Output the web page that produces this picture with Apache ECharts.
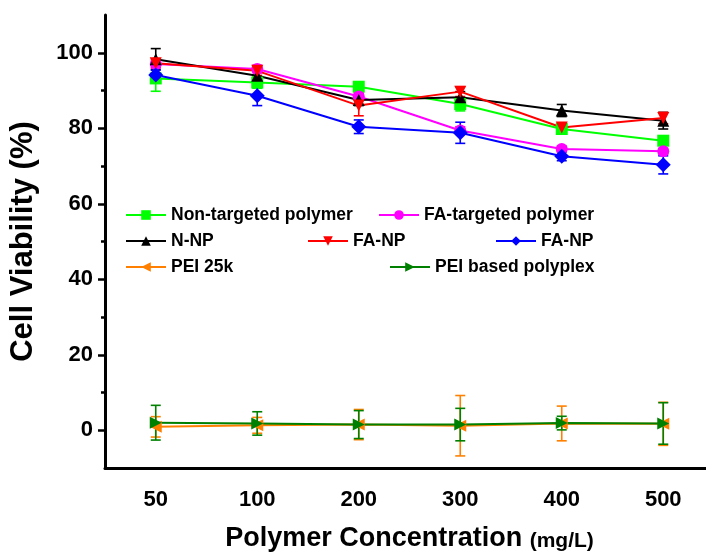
<!DOCTYPE html>
<html>
<head>
<meta charset="utf-8">
<script src="https://cdn.jsdelivr.net/npm/echarts@6/dist/echarts.min.js"></script>
<style>html,body{margin:0;padding:0;background:#fff;}#c{width:706px;height:552px;}</style>
</head>
<body>
<div id="c"></div>
<script>
const categories = ['50', '100', '200', '300', '400', '500'];
const yLabelValues = [0, 20, 40, 60, 80, 100];
const yMinorValues = [10, 30, 50, 70, 90];

const nonTargeted = [93.2, 92.1, 91.0, 86.4, 79.8, 76.7];
const nonTargetedErr = [3.4, 1.5, 1.0, 1.8, 1.2, 1.0];
const faTargeted = [97.0, 95.7, 88.4, 79.4, 74.5, 73.9];
const faTargetedErr = [1.0, 1.0, 1.0, 1.0, 0.8, 0.8];
const nNP = [98.3, 93.9, 87.5, 88.2, 84.7, 82.0];
const nNPErr = [2.8, 1.2, 1.5, 1.5, 1.6, 2.2];
const faNPRed = [97.2, 95.2, 86.0, 89.7, 80.2, 82.7];
const faNPRedErr = [1.2, 1.2, 2.7, 1.3, 1.2, 1.5];
const faNPBlue = [94.1, 88.6, 80.4, 78.8, 72.6, 70.3];
const faNPBlueErr = [1.3, 2.6, 1.8, 2.8, 1.2, 2.4];
const pei25k = [0.9, 1.3, 1.5, 1.2, 1.8, 1.7];
const pei25kErr = [2.7, 2.1, 4.0, 8.0, 4.6, 5.7];
const polyplex = [2.0, 1.8, 1.5, 1.5, 1.9, 1.8];
const polyplexErr = [4.6, 3.1, 3.7, 4.3, 1.8, 5.5];

const FONT = '"Liberation Sans", Arial, sans-serif';

const seriesDefs = [
  {name: 'Non-targeted polymer', label: 'Non-targeted polymer', data: nonTargeted, err: nonTargetedErr, color: '#00ff00', symbol: 'rect', rot: 0},
  {name: 'FA-targeted polymer', label: 'FA-targeted polymer', data: faTargeted, err: faTargetedErr, color: '#ff00ff', symbol: 'circle', rot: 0},
  {name: 'N-NP', label: 'N-NP', data: nNP, err: nNPErr, color: '#000000', symbol: 'triangle', rot: 0},
  {name: 'FA-NP red', label: 'FA-NP', data: faNPRed, err: faNPRedErr, color: '#ff0000', symbol: 'triangle', rot: 180},
  {name: 'FA-NP blue', label: 'FA-NP', data: faNPBlue, err: faNPBlueErr, color: '#0000ff', symbol: 'diamond', rot: 0},
  {name: 'PEI 25k', label: 'PEI 25k', data: pei25k, err: pei25kErr, color: '#ff8000', symbol: 'triangle', rot: 90},
  {name: 'PEI based polyplex', label: 'PEI based polyplex', data: polyplex, err: polyplexErr, color: '#008000', symbol: 'triangle', rot: -90}
];

const legendPos = [
  {left: 125, top: 206}, {left: 378, top: 206},
  {left: 125, top: 232}, {left: 307, top: 232}, {left: 495, top: 232},
  {left: 125, top: 258}, {left: 389, top: 258}
];

const series = [];
seriesDefs.forEach(function (d) {
  series.push({
    type: 'custom',
    name: d.name + ' err',
    xAxisIndex: 0, yAxisIndex: 0,
    data: d.data.map(function (v, i) { return [i, v, d.err[i]]; }),
    renderItem: function (params, api) {
      const x = api.value(0), v = api.value(1), e = api.value(2);
      const top = api.coord([x, v + e]);
      const bot = api.coord([x, v - e]);
      const st = {stroke: d.color, lineWidth: 1.6};
      return {type: 'group', children: [
        {type: 'line', shape: {x1: top[0], y1: top[1], x2: bot[0], y2: bot[1]}, style: st},
        {type: 'line', shape: {x1: top[0] - 5, y1: top[1], x2: top[0] + 5, y2: top[1]}, style: st},
        {type: 'line', shape: {x1: bot[0] - 5, y1: bot[1], x2: bot[0] + 5, y2: bot[1]}, style: st}
      ]};
    },
    silent: true,
    z: 2
  });
  series.push({
    type: 'line',
    name: d.name,
    xAxisIndex: 0, yAxisIndex: 0,
    data: d.data,
    symbol: d.symbol,
    symbolRotate: d.rot,
    symbolSize: d.symbol === 'diamond' ? 15 : 12,
    showAllSymbol: true,
    lineStyle: {color: d.color, width: 2},
    itemStyle: {color: d.color},
    emphasis: {disabled: true},
    animation: false,
    z: 3
  });
});

const legends = seriesDefs.map(function (d, i) {
  return {
    data: [d.name],
    left: legendPos[i].left, top: legendPos[i].top,
    itemWidth: 40, itemHeight: 12,
    padding: 0,
    formatter: function () { return d.label; },
    textStyle: {fontFamily: FONT, fontWeight: 'bold', fontSize: 17.5, color: '#000'},
    selectedMode: false
  };
});

const option = {
  backgroundColor: '#fff',
  animation: false,
  grid: {left: 105, right: -8, top: 15, bottom: 84, containLabel: false, outerBoundsMode: 'none'},
  legend: legends,
  xAxis: [
    {
      type: 'category', data: categories, boundaryGap: true,
      axisLine: {onZero: false, lineStyle: {color: '#000', width: 3}},
      axisTick: {alignWithLabel: true, length: 7, lineStyle: {color: '#000', width: 2.5}},
      axisLabel: {fontFamily: FONT, fontWeight: 'bold', fontSize: 22, color: '#000', margin: 21},
      name: '{a|Polymer Concentration }{b|(mg/L)}',
      nameLocation: 'middle', nameGap: 57,
      nameTextStyle: {rich: {
        a: {fontFamily: FONT, fontWeight: 'bold', fontSize: 27, color: '#000'},
        b: {fontFamily: FONT, fontWeight: 'bold', fontSize: 21, color: '#000', padding: [5, 0, 0, 0]}
      }}
    },
    {
      type: 'category', data: categories, boundaryGap: true, position: 'bottom',
      axisLine: {show: false, onZero: false},
      axisTick: {alignWithLabel: false, length: 4, lineStyle: {color: '#000', width: 2.5}},
      axisLabel: {show: false}
    }
  ],
  yAxis: [
    {
      type: 'value', min: -10, max: 110,
      splitLine: {show: false},
      axisLine: {show: true, onZero: false, lineStyle: {color: '#000', width: 3}},
      axisTick: {show: true, length: 7, customValues: yLabelValues, lineStyle: {color: '#000', width: 2.5}},
      axisLabel: {customValues: yLabelValues, fontFamily: FONT, fontWeight: 'bold', fontSize: 22, color: '#000', margin: 12},
      name: 'Cell Viability (%)', nameLocation: 'middle', nameGap: 66,
      nameTextStyle: {fontFamily: FONT, fontWeight: 'bold', fontSize: 31, color: '#000'}
    },
    {
      type: 'value', min: -10, max: 110, position: 'left',
      splitLine: {show: false},
      axisLine: {show: false, onZero: false},
      axisTick: {show: true, length: 4, customValues: yMinorValues, lineStyle: {color: '#000', width: 2.5}},
      axisLabel: {show: false}
    }
  ],
  series: series
};

const chart = echarts.init(document.getElementById('c'), null, {renderer: 'canvas'});
chart.setOption(option);
</script>
</body>
</html>
